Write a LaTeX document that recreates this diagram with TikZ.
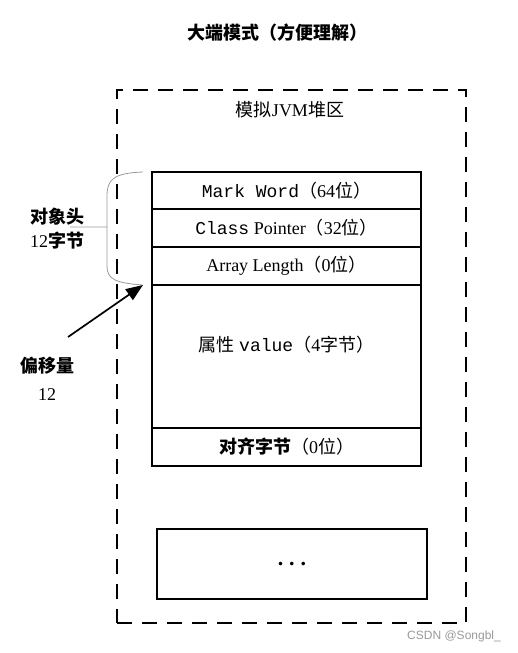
\documentclass[tikz,border=0pt]{standalone}
\usepackage{fontspec}
\setmainfont{Liberation Serif}
\setmonofont{Liberation Mono}
\newfontfamily\cjk{Noto Sans CJK SC}
\newfontfamily\wmfont{Liberation Sans}
\usetikzlibrary{arrows.meta,positioning}

\newcommand{\zh}[1]{{\cjk #1}}

\begin{document}
\begin{tikzpicture}[x=1pt, y=-1pt,
        cell/.style={draw, line width=1.5pt, outer sep=0pt, inner sep=0pt,
                minimum width=269pt, minimum height=38pt,
                font=\fontsize{18}{20}\selectfont},
        heapbox/.style={draw, line width=2pt, dash pattern=on 15pt off 10pt,
                minimum width=349pt, minimum height=533pt, inner sep=0pt},
        lab/.style={font=\fontsize{18}{20}\selectfont, align=center, inner sep=0pt},
        side/.style={font=\fontsize{18}{24}\selectfont, align=center, inner sep=0pt},
        brace/.style={draw=gray!80, line width=0.8pt},
        ptr/.style={-{Triangle[length=17pt, width=13pt]}, line width=1.7pt}
    ]
    \useasboundingbox (0,0) rectangle (517,653);

    \node[font=\fontsize{18}{20}\selectfont\bfseries, inner sep=0pt] (title) at (277,33)
        {\zh{大端模式（方便理解）}};

    % heap area
    \node[heapbox] (heap) at (291.5,356.5) {};
    \node[lab] (heapname) at (290,110) {\zh{模拟}JVM\zh{堆区}};

    % object layout
    \node[cell, anchor=north, minimum height=37pt] (mark) at (286.5,172)
        {\texttt{Mark Word}\zh{（}64\zh{位）}};
    \node[cell, below=0pt of mark] (klass)
        {\texttt{Class} Pointer\zh{（}32\zh{位）}};
    \node[cell, below=0pt of klass] (array)
        {Array Length\zh{（}0\zh{位）}};
    \node[cell, below=0pt of array, minimum height=143pt] (value) {};
    \node[lab, below=51pt of value.north] (valtxt)
        {\zh{属性} \texttt{value}\zh{（}4\zh{字节）}};
    \node[cell, below=0pt of value] (pad) {\zh{\bfseries 对齐字节}\zh{（}0\zh{位）}};

    \node[cell, minimum width=270pt, minimum height=70pt, font=\fontsize{22}{24}\selectfont\bfseries]
        (more) at (292,564) {.\hspace{6pt}.\hspace{6pt}.};

    % header brace
    \coordinate (bt) at ([xshift=-9pt]mark.north west);
    \coordinate (bb) at ([xshift=-9pt]array.south west);
    \draw[brace] (bt) .. controls (113,173) and (107,180) .. (107,196)
        -- (107,227) -- (70,227);
    \draw[brace] (107,227) -- (107,266)
        .. controls (107,279) and (115,283) .. (bb);
    \node[side, font=\fontsize{18}{24}\selectfont\bfseries] (hdr) at (57,229)
        {\zh{对象头}\\\mdseries 12\zh{\bfseries 字节}};

    % offset
    \node[side, font=\fontsize{18}{28}\selectfont] (offs) at (47,379)
        {\zh{\bfseries 偏移量}\\12};
    \coordinate (tail) at (68,337);
    \draw[ptr] (tail) -- (bb);

    \node[font=\wmfont\fontsize{12}{14}\selectfont, text=gray!80, anchor=east, inner sep=0pt]
        (wm) at (501,636) {CSDN @Songbl\_};
\end{tikzpicture}
\end{document}
